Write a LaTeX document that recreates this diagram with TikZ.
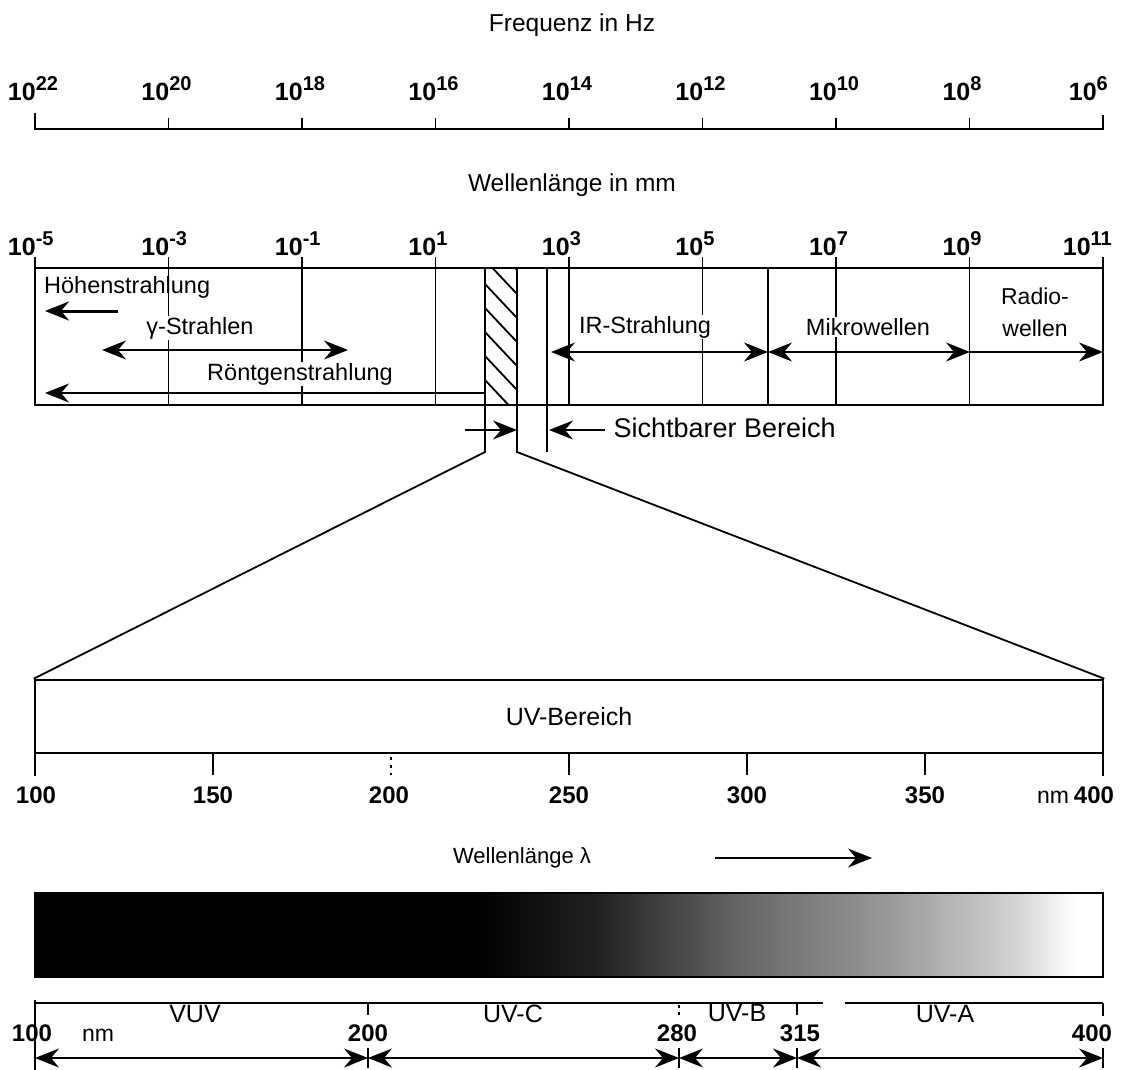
\documentclass[tikz,border=0pt]{standalone}
\usepackage{fontspec}
\setmainfont{Liberation Sans}
\usetikzlibrary{arrows.meta}
\newcommand\myfs[1]{\fontsize{#1}{#1}\selectfont}
\newcommand\tenexp[1]{10\rlap{\raisebox{10pt}{\myfs{20}#1}}}
\newcommand\tenexpfull[1]{10\raisebox{10pt}{\myfs{20}#1}}
\pgfdeclarehorizontalshading{uvgrad}{100bp}{color(0bp)=(black); color(25bp)=(black); color(45.5bp)=(black); color(51bp)=(black!88); color(58bp)=(black!60); color(65bp)=(black!40); color(71bp)=(black!17); color(73.7bp)=(white); color(100bp)=(white)}
\begin{document}
\begin{tikzpicture}[x=1pt,y=-1pt,
  >={Stealth[length=24pt,width=19pt,inset=8pt]},
  boxln/.style={line width=2.6pt},
  midln/.style={line width=1.8pt},
  thinln/.style={line width=1.4pt},
  arr/.style={line width=1.8pt},
  txt/.style={font=\myfs{23.5}, inner sep=1pt},
  num/.style={font=\myfs{25}\bfseries, anchor=base, inner sep=0pt},
  hdr/.style={font=\myfs{24.5}},
  lab/.style={font=\myfs{25}, anchor=base, inner sep=0pt},
]
\useasboundingbox (0,0) rectangle (1125,1070);

% ---------- frequency axis
\node[hdr] (fhz) at (572,25) {Frequenz in Hz};
\draw[boxln] (35,113) -- (35,129) -- (1103,129) -- (1103,115);
\foreach \k in {1,...,7} \draw[midln] ({35+133.5*\k},129) -- ({35+133.5*\k},118);
\foreach \e [count=\k from 0] in {22,20,18,16,14,12,10,8}
  \node[num, anchor=base east] (hz\k) at ({36+133.5*\k},101) {\tenexp{\e}};
\node[num, anchor=base east] (hz8) at (1108,101) {\tenexpfull{6}};

% ---------- wavelength axis
\node[hdr] (wmm) at (572,185) {Wellenlänge in mm};
\foreach \e [count=\k from 0] in {-5,-3,-1,1,3,5,7,9}
  \node[num, anchor=base east] (mm\k) at ({36+133.5*\k},255) {\tenexp{\e}};
\node[num, anchor=base east] (mm8) at (1112,255) {\tenexpfull{11}};

\foreach \k in {0,...,8} \draw[midln] ({35+133.5*\k},257) -- ({35+133.5*\k},268);
\foreach \k in {1,...,7} \draw[midln] ({35+133.5*\k},268) -- ({35+133.5*\k},405);
\draw[midln] (768,268) -- (768,405);

% hatched UV strip
\begin{scope}
  \clip (485,268) rectangle (517,405);
  \foreach \y in {236,260,...,420} \draw[line width=1.8pt] (485,\y) -- (517,\y+34);
\end{scope}

\draw[boxln] (35,268) rectangle (1103,405);

% UV box
\node[draw, boxln, minimum width=1068pt, minimum height=73pt, inner sep=0pt, font=\myfs{25}] (uvbox) at (569,716.5) {UV-Bereich};

\coordinate (hl) at (485,452);
\coordinate (hr) at (517,452);
\draw[midln] (485,268) -- (hl) -- (uvbox.north west);
\draw[midln] (517,268) -- (hr) -- (uvbox.north east);
\draw[midln] (547,268) -- (547,452);

% texts and arrows inside the spectrum box
\node[txt, anchor=west] (hoe) at (43,287) {Höhenstrahlung};
\draw[->, line width=3pt] (118,311) -- (45,311);
\node[txt, fill=white] (gam) at (200,328) {γ-Strahlen};
\draw[<->, arr] (102,350) -- (348,350);
\node[txt, fill=white] (roe) at (300,374) {Röntgenstrahlung};
\draw[->, arr] (485,393) -- (45,393);
\node[txt, fill=white] (ir) at (645,327) {IR-Strahlung};
\coordinate (irl) at (551,352);
\coordinate (irr) at (768,352);
\coordinate (mwr) at (970,352);
\coordinate (rwr) at (1103,352);
\draw[<->, arr] (irl) -- (irr);
\node[txt, fill=white] (mik) at (868,327) {Mikrowellen};
\draw[<->, arr] (irr) -- (mwr);
\node[txt, align=center, font=\fontsize{23}{32}\selectfont] (rad) at (1035,312) {Radio-\\wellen};
\draw[->, arr] (mwr) -- (rwr);

% visible range markers
\draw[->, arr] (465,430) -- (517,430);
\draw[->, arr] (605,430) -- (549,430);
\node[font=\myfs{27}, anchor=west] (sb) at (610,428) {Sichtbarer Bereich};

% ---------- UV scale
\draw[midln] (35,680) -- (35,776);
\draw[boxln] (1103,680) -- (1103,776);
\foreach \x in {213,569,747,925} \draw[midln] (\x,753) -- (\x,775);
\draw[midln, dash pattern=on 3pt off 5pt] (391,757) -- (391,775);
\foreach \v/\x in {100/36,150/213,200/389,250/569,300/747,350/925,400/1094}
  \node[num, font=\myfs{24}\bfseries] (uv\v) at (\x,803) {\v};
\node[lab, font=\myfs{23}] (nm1) at (1053,803) {nm};

\node[font=\myfs{22}] (wl) at (522,858) {Wellenlänge λ};
\coordinate (wla) at (715,858);
\coordinate (wlb) at (872,858);
\draw[->, thinln] (wla) -- (wlb);

% ---------- shaded bar
\shade[shading=uvgrad] (35,893) rectangle (1103,977);
\draw[thinln] (35,893) rectangle (1103,977);

% ---------- bottom UV bands
\draw[thinln] (35,1003) -- (823,1003);
\draw[thinln] (845,1003) -- (1103,1003);
\draw[midln] (35,1000) -- (35,1070);
\draw[midln] (1103,1003) -- (1103,1016);
\draw[midln] (1103,1048) -- (1103,1068);
\foreach \x in {368,797} {\draw[thinln] (\x,1003) -- (\x,1015); \draw[thinln] (\x,1048) -- (\x,1068);}
\draw[thinln, dash pattern=on 3pt off 4pt] (679,1005) -- (679,1018);
\draw[thinln] (679,1048) -- (679,1068);
\coordinate (b100) at (35,1058);
\coordinate (b200) at (368,1058);
\coordinate (b280) at (679,1058);
\coordinate (b315) at (797,1058);
\coordinate (b400) at (1103,1058);
\draw[<->, arr] (b100) -- (b200);
\draw[<->, arr] (b200) -- (b280);
\draw[<->, arr] (b280) -- (b315);
\draw[<->, arr] (b315) -- (b400);

\node[num, font=\myfs{24}\bfseries] (l100) at (32,1041) {100};
\node[lab, font=\myfs{23}] (lnm) at (98,1041) {nm};
\node[num, font=\myfs{24}\bfseries] (l200) at (368,1041) {200};
\node[num, font=\myfs{24}\bfseries] (l280) at (677,1041) {280};
\node[num, font=\myfs{24}\bfseries] (l315) at (800,1041) {315};
\node[num, font=\myfs{24}\bfseries] (l400) at (1092,1041) {400};
\node[lab] (vuv) at (195,1022) {VUV};
\node[lab] (uvc) at (513,1022) {UV-C};
\node[lab] (uvb) at (737,1021) {UV-B};
\node[lab] (uva) at (945,1022) {UV-A};
\end{tikzpicture}
\end{document}
